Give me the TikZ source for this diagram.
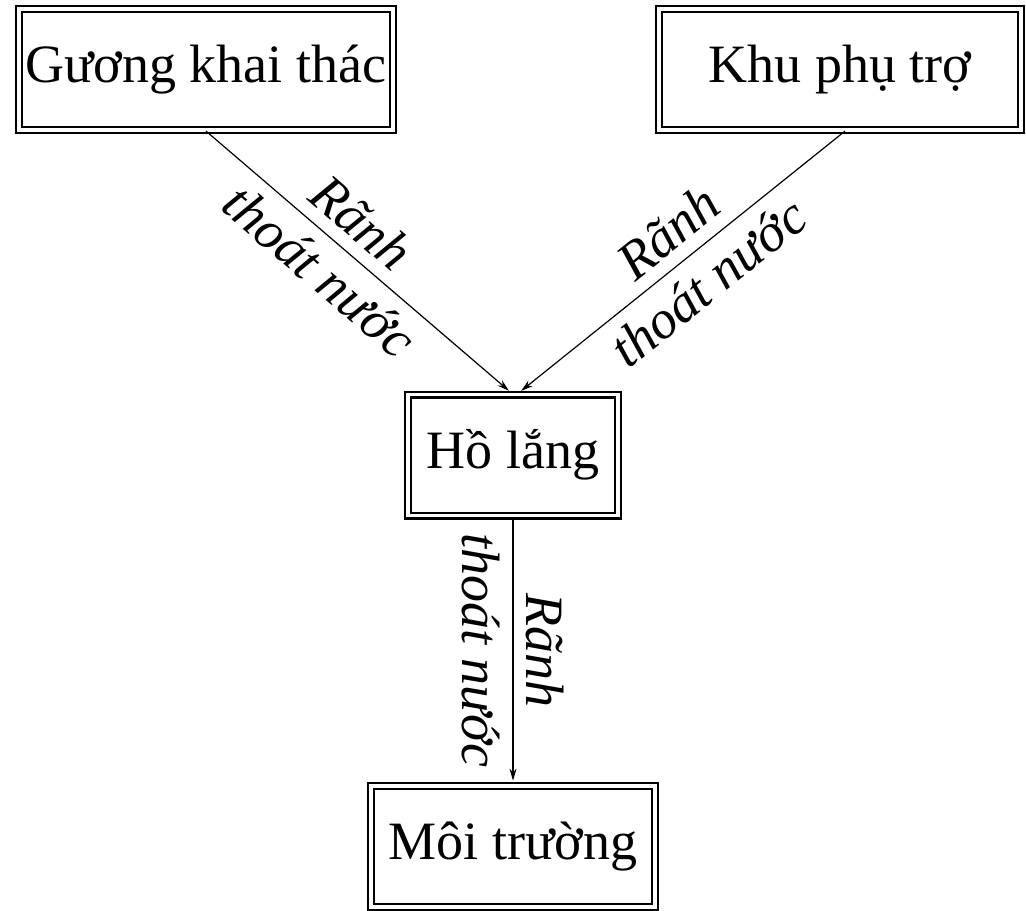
\documentclass[tikz,border=0pt]{standalone}
\usepackage{fontspec}
\setmainfont{Liberation Serif}
\usetikzlibrary{arrows.meta, positioning}

\begin{document}
\begin{tikzpicture}[x=0.5pt, y=-0.5pt, node distance=134pt,
		box/.style={draw, double, line width=1.1pt, double distance=1.8pt, minimum height=60.5pt, font=\fontsize{27}{30}\selectfont},
		lbl/.style={font=\fontsize{27}{32}\selectfont\itshape, align=center},
		flow/.style={line width=0.6pt, shorten >=2pt, -{Stealth[length=6pt, width=3.5pt]}}]
			\useasboundingbox (0,0) rectangle (1026,910);
			\node[box, minimum width=187pt] (G) at (206,69.5) {Gương khai thác};
			\node[box, minimum width=181pt] (K) at (840,69.5) {Khu phụ trợ};
			\node[box, minimum width=105pt] (H) at (513,455) {Hồ lắng};
			\node[box, minimum width=142pt, below=of H] (M) {Môi trường};
			\draw[flow] (G.south) -- node[lbl, sloped, pos=0.44] {Rãnh\\thoát nước} ([xshift=-0.5pt]H.north);
			\draw[flow] ([xshift=2.5pt]K.south) -- node[lbl, sloped, pos=0.48] {Rãnh\\thoát nước} ([xshift=2.5pt]H.north);
			\draw[flow] (H.south) -- node[lbl, rotate=-90] {Rãnh\\thoát nước} (M.north);
		\end{tikzpicture}
\end{document}
